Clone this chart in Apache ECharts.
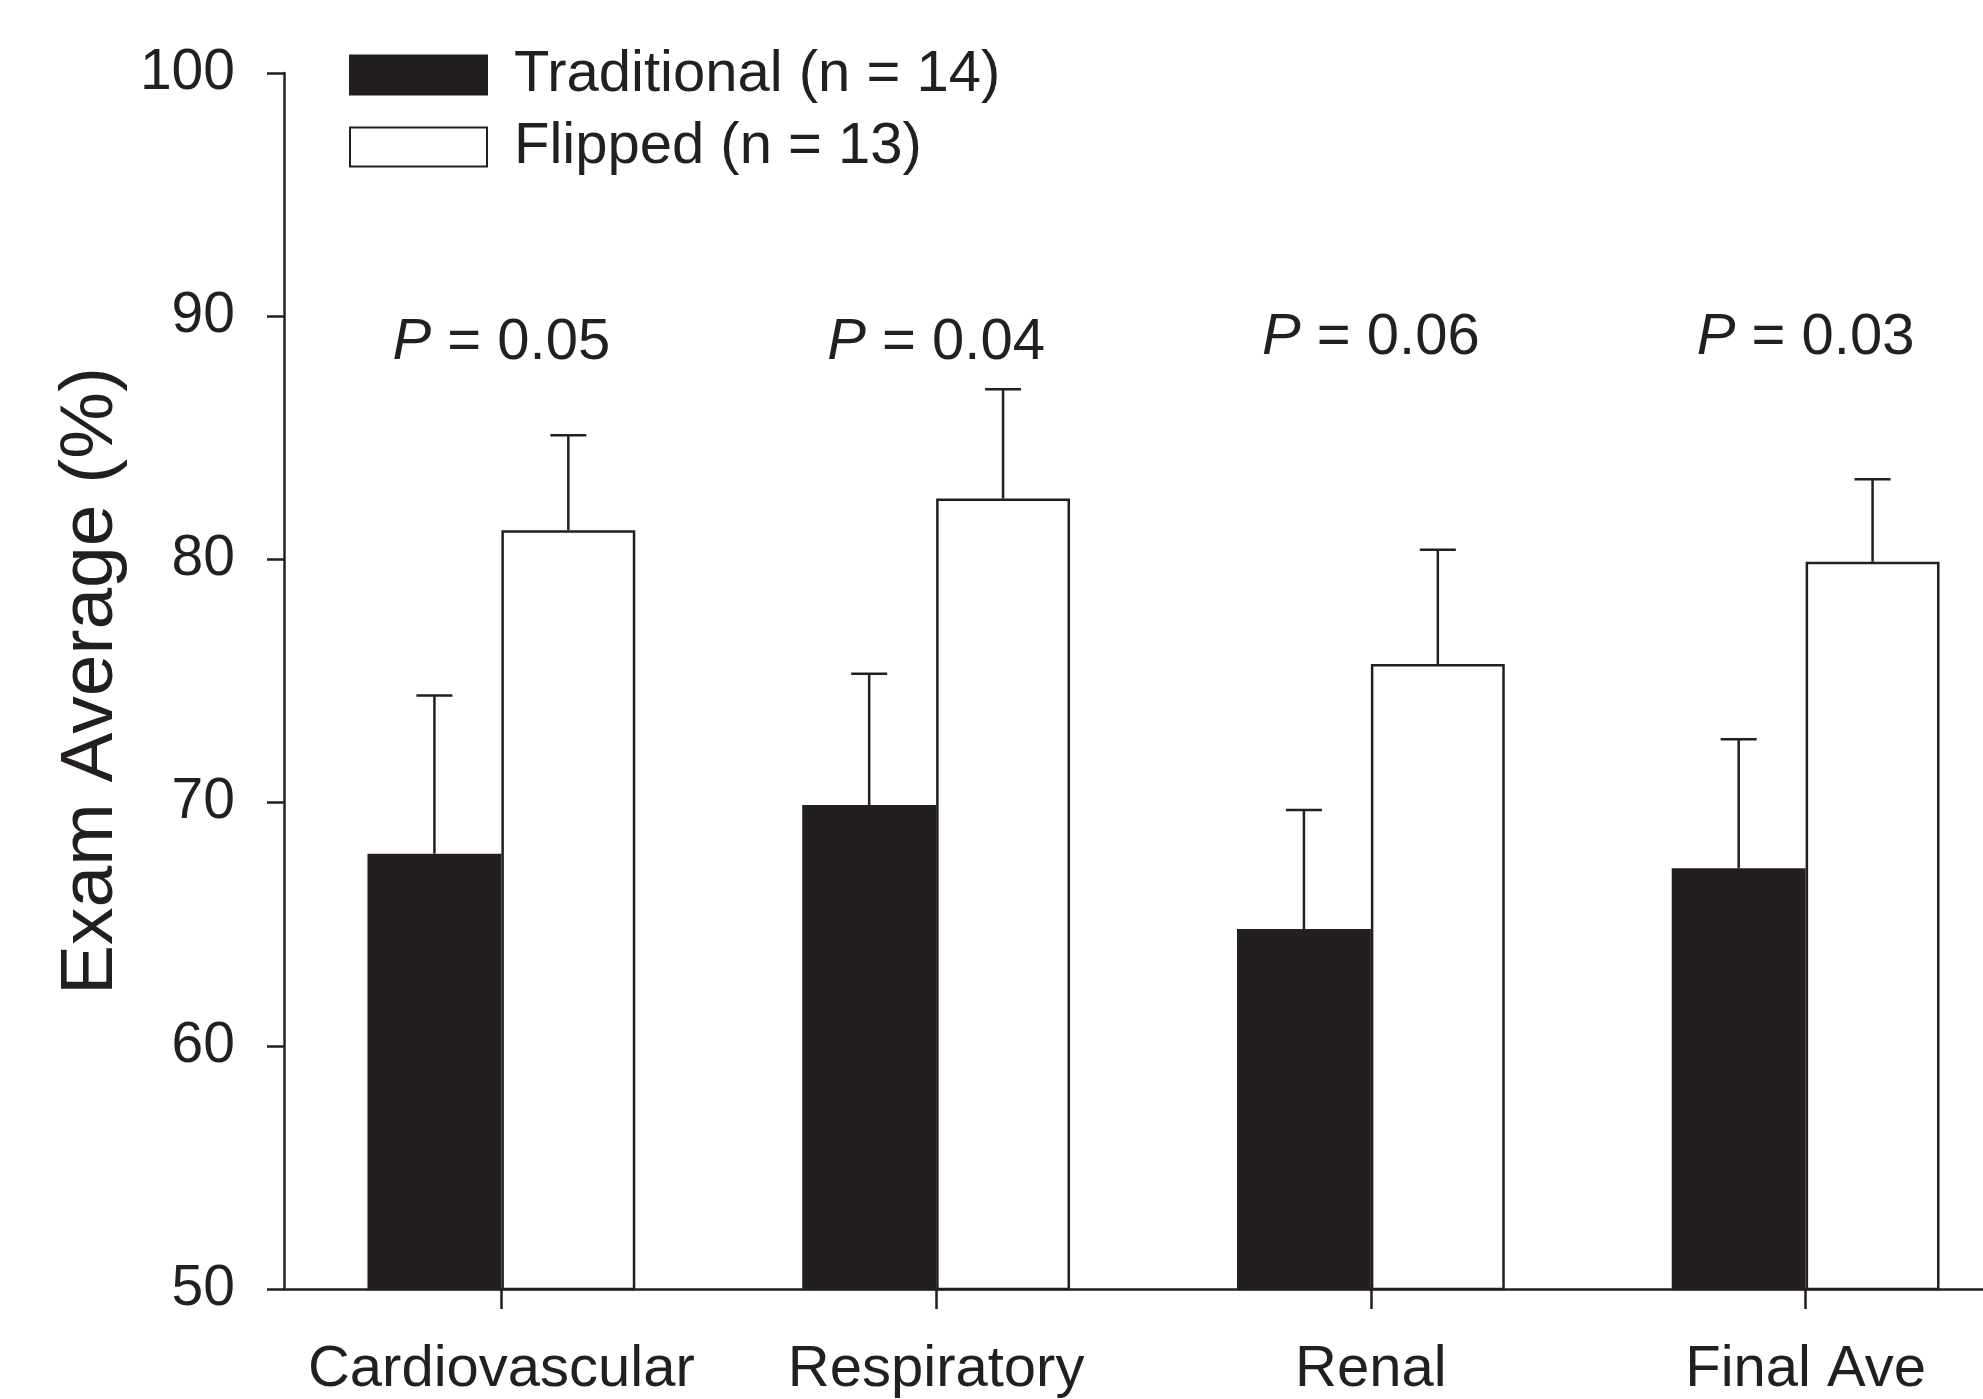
<!DOCTYPE html>
<html>
<head>
<meta charset="utf-8">
<script src="https://cdn.jsdelivr.net/npm/echarts@6/dist/echarts.min.js"></script>
<style>
html,body{margin:0;padding:0;background:#fff;overflow:hidden;width:1983px;height:1399px;}
#chart{width:2023px;height:1399px;}
</style>
</head>
<body>
<div id="chart"></div>
<script>
const categories = ['Cardiovascular', 'Respiratory', 'Renal', 'Final Ave'];
const seriesNames = ['Traditional (n = 14)', 'Flipped (n = 13)'];
const traditional = [67.9, 69.9, 64.8, 67.3];
const traditionalErr = [6.5, 5.4, 4.9, 5.3];
const flipped = [81.2, 82.5, 75.7, 79.9];
const flippedErr = [3.9, 4.5, 4.7, 3.4];
const pValues = ['0.05', '0.04', '0.06', '0.03'];
const pLevels = [88.9, 88.9, 89.1, 89.1];
const yMin = 50, yMax = 100, yInterval = 10;

const INK = '#231f20';
const FONT = '"Liberation Sans", Arial, sans-serif';
const BAR_FRAC = 0.308;
const LW = 2.5;

const chart = echarts.init(document.getElementById('chart'));

function errSeries(vals, errs, side) {
  return {
    type: 'custom',
    z: 5,
    silent: true,
    data: vals.map((v, i) => [i, v, v + errs[i]]),
    renderItem: function (params, api) {
      const band = api.size([1, 0])[0];
      const off = side * band * BAR_FRAC / 2;
      const p0 = api.coord([api.value(0), api.value(1)]);
      const p1 = api.coord([api.value(0), api.value(2)]);
      const x = p0[0] + off;
      const cap = 18;
      const style = { stroke: INK, lineWidth: LW };
      return {
        type: 'group',
        children: [
          { type: 'line', shape: { x1: x, y1: p0[1], x2: x, y2: p1[1] }, style: style },
          { type: 'line', shape: { x1: x - cap, y1: p1[1], x2: x + cap, y2: p1[1] }, style: style }
        ]
      };
    }
  };
}

const option = {
  animation: false,
  backgroundColor: '#fff',
  grid: { left: 284, top: 73, right: 0, height: 1221 },
  legend: {
    data: seriesNames,
    orient: 'vertical',
    left: 344,
    top: 41,
    itemWidth: 137,
    itemHeight: 39,
    itemGap: 14,
    icon: 'rect',
    textStyle: { fontFamily: FONT, fontSize: 58, color: INK, padding: [0, 0, 0, 22] }
  },
  xAxis: {
    type: 'category',
    data: categories,
    axisLine: { show: true, lineStyle: { color: INK, width: LW } },
    axisTick: { show: true, interval: 0, alignWithLabel: true, inside: false, length: 20, lineStyle: { color: INK, width: LW } },
    axisLabel: { fontFamily: FONT, fontSize: 58, color: INK, margin: 52, interval: 0 },
    splitLine: { show: false }
  },
  yAxis: {
    type: 'value',
    min: yMin,
    max: yMax,
    interval: yInterval,
    name: 'Exam Average (%)',
    nameLocation: 'middle',
    nameGap: 150,
    nameTextStyle: { fontFamily: FONT, fontSize: 75, color: INK },
    axisLine: { show: true, lineStyle: { color: INK, width: LW } },
    axisTick: { show: true, length: 17, lineStyle: { color: INK, width: LW } },
    axisLabel: { fontFamily: FONT, fontSize: 57, color: INK, margin: 49 },
    splitLine: { show: false }
  },
  series: [
    {
      name: seriesNames[0],
      type: 'bar',
      data: traditional,
      barWidth: (BAR_FRAC * 100) + '%',
      barGap: '0%',
      itemStyle: { color: INK, borderColor: INK, borderWidth: LW }
    },
    {
      name: seriesNames[1],
      type: 'bar',
      data: flipped,
      barWidth: (BAR_FRAC * 100) + '%',
      barGap: '0%',
      itemStyle: { color: '#ffffff', borderColor: INK, borderWidth: LW }
    },
    errSeries(traditional, traditionalErr, -1),
    errSeries(flipped, flippedErr, 1),
    {
      type: 'scatter',
      symbolSize: 0,
      silent: true,
      itemStyle: { opacity: 1, color: INK },
      data: pValues.map((p, i) => [i, pLevels[i]]),
      label: {
        show: true,
        position: 'inside',
        formatter: function (params) {
          return '{i|P} = ' + pValues[params.dataIndex];
        },
        fontFamily: FONT,
        fontSize: 58,
        color: INK,
        opacity: 1,
        rich: {
          i: { fontFamily: FONT, fontSize: 58, fontStyle: 'italic', color: INK }
        }
      }
    }
  ]
};
chart.setOption(option);
</script>
</body>
</html>
